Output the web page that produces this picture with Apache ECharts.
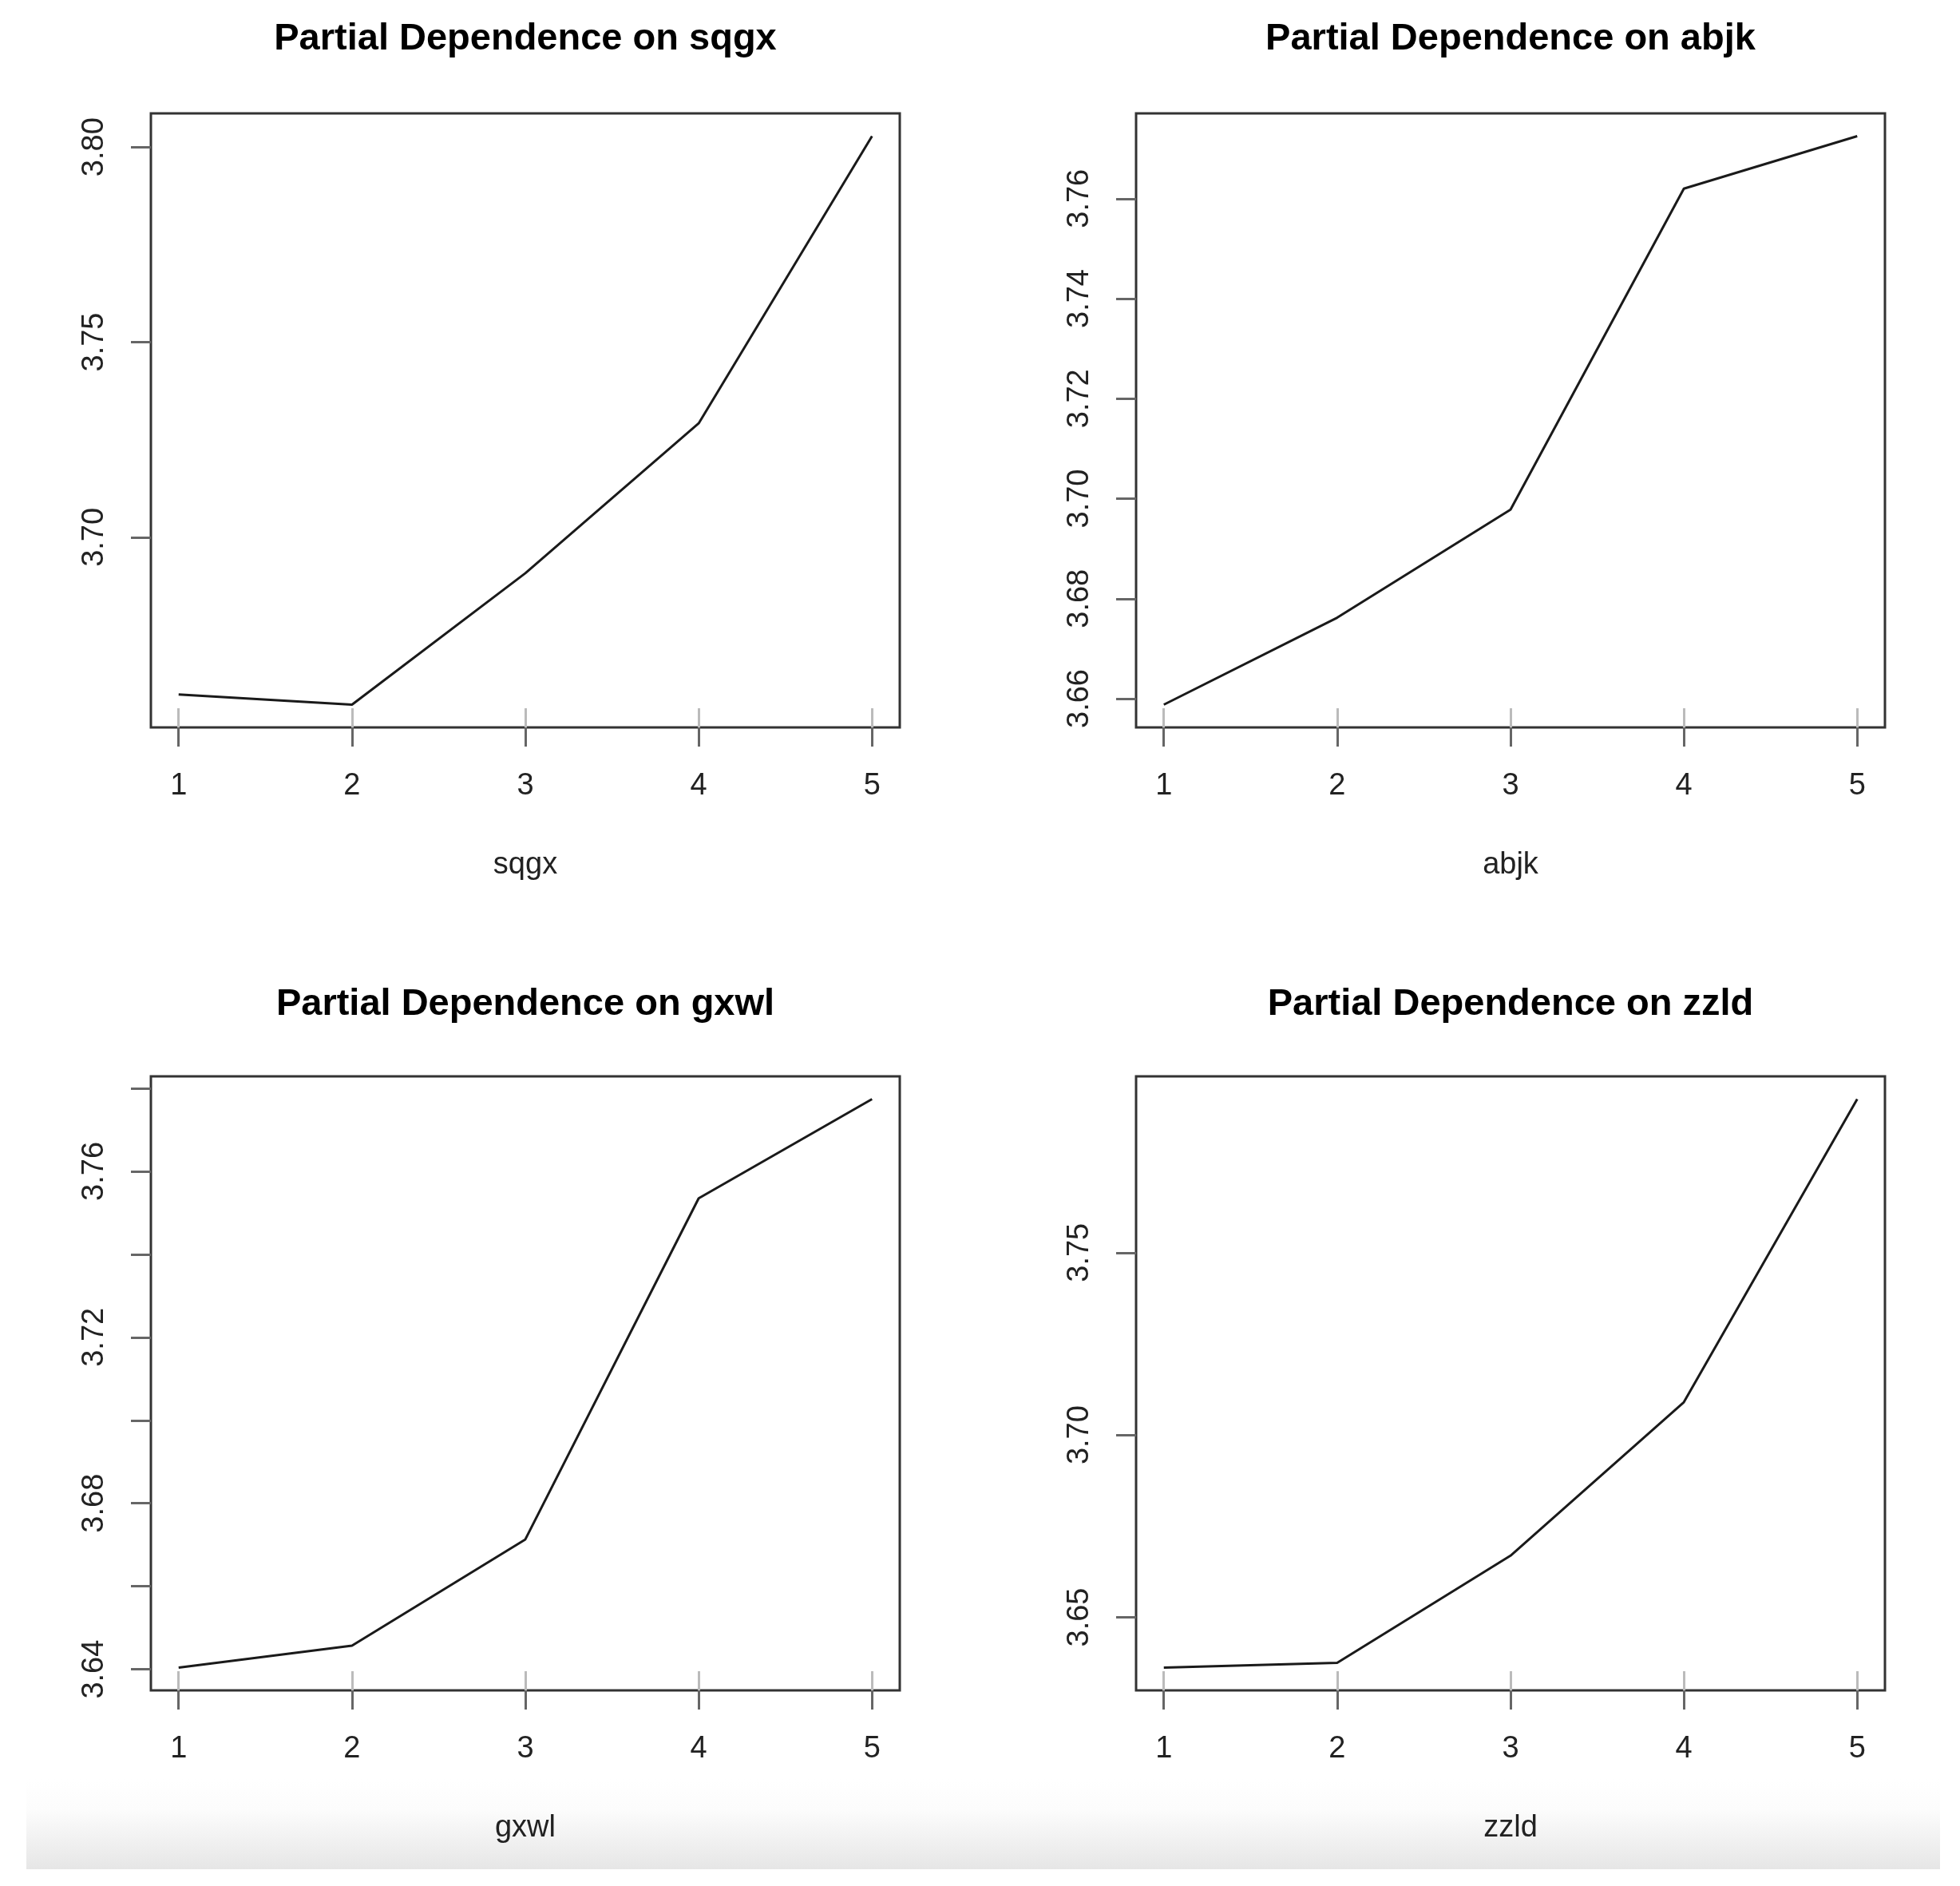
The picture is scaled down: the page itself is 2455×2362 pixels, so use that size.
<!DOCTYPE html>
<html>
<head>
<meta charset="utf-8">
<script src="https://cdn.jsdelivr.net/npm/echarts@6/dist/echarts.min.js"></script>
<style>
  html, body { margin: 0; padding: 0; background: #fff; }
  #chart { width: 2455px; height: 2362px; }
</style>
</head>
<body>
<div id="chart"></div>
<script>
// ---- data ----
const xValues = [1, 2, 3, 4, 5];
const xTickLabels = [1, 2, 3, 4, 5];

const varNames = ['sqgx', 'abjk', 'gxwl', 'zzld'];

const sqgxValues = [3.6597, 3.6571, 3.6908, 3.7292, 3.8028];
const abjkValues = [3.6588, 3.6762, 3.6978, 3.7620, 3.7725];
const gxwlValues = [3.6404, 3.6457, 3.6713, 3.7535, 3.7774];
const zzldValues = [3.6362, 3.6375, 3.6669, 3.7090, 3.7921];

const sqgxTicks = [3.70, 3.75, 3.80];
const abjkTicks = [3.66, 3.68, 3.70, 3.72, 3.74, 3.76];
const gxwlTicks = [3.64, 3.66, 3.68, 3.70, 3.72, 3.74, 3.76, 3.78];
const zzldTicks = [3.65, 3.70, 3.75];

const sqgxLabels = [3.70, 3.75, 3.80];
const abjkLabels = [3.66, 3.68, 3.70, 3.72, 3.74, 3.76];
const gxwlLabels = [3.64, 3.68, 3.72, 3.76];
const zzldLabels = [3.65, 3.70, 3.75];

// ---- layout ----
const FONT = "'Liberation Sans', Arial, Helvetica, sans-serif";
const panels = [
  { name: varNames[0], values: sqgxValues, ticks: sqgxTicks, labels: sqgxLabels, left: 189, top: 142, titleTop: 26 },
  { name: varNames[1], values: abjkValues, ticks: abjkTicks, labels: abjkLabels, left: 1423, top: 142, titleTop: 26 },
  { name: varNames[2], values: gxwlValues, ticks: gxwlTicks, labels: gxwlLabels, left: 189, top: 1348, titleTop: 1235 },
  { name: varNames[3], values: zzldValues, ticks: zzldTicks, labels: zzldLabels, left: 1423, top: 1348, titleTop: 1235 }
];
const W = 938, H = 769;

// R-style 4% axis extension
function ext(arr) {
  const mn = Math.min.apply(null, arr), mx = Math.max.apply(null, arr);
  const d = (mx - mn) * 0.04;
  return [mn - d, mx + d];
}

const option = {
  backgroundColor: '#ffffff',
  animation: false,
  title: [],
  grid: [],
  xAxis: [],
  yAxis: [],
  series: [],
  graphic: [{
    type: 'rect',
    z: -10,
    shape: { x: 33, y: 2228, width: 2397, height: 113 },
    style: {
      fill: new echarts.graphic.LinearGradient(0, 0, 0, 1, [
        { offset: 0, color: 'rgba(255,255,255,1)' },
        { offset: 0.35, color: '#fcfcfc' },
        { offset: 1, color: '#e6e6e6' }
      ])
    },
    silent: true
  }]
};

const xr = ext(xValues);

panels.forEach((p, i) => {
  const yr = ext(p.values);
  option.title.push({
    text: 'Partial Dependence on ' + p.name,
    left: p.left + W / 2,
    top: p.titleTop,
    textAlign: 'center',
    padding: 0,
    textStyle: { fontFamily: FONT, fontSize: 47, fontWeight: 'bold', color: '#000' }
  });
  option.grid.push({
    left: p.left, top: p.top, width: W, height: H,
    show: true, borderColor: '#333', borderWidth: 3, backgroundColor: 'transparent'
  });
  // main x axis (outside ticks + labels + name)
  option.xAxis.push({
    type: 'value', gridIndex: i, position: 'bottom',
    min: xr[0], max: xr[1],
    axisLine: { show: false },
    splitLine: { show: false },
    axisTick: { show: true, inside: false, length: 24, customValues: xTickLabels, lineStyle: { color: '#666', width: 3 } },
    axisLabel: { show: true, customValues: xTickLabels, margin: 55, fontFamily: FONT, fontSize: 38, color: '#222',
                 formatter: v => String(Math.round(v)) },
    name: p.name, nameLocation: 'middle', nameGap: 154,
    nameTextStyle: { fontFamily: FONT, fontSize: 38, color: '#222' }
  });
  // secondary x axis for light inside tick part
  option.xAxis.push({
    type: 'value', gridIndex: i, position: 'bottom',
    min: xr[0], max: xr[1],
    axisLine: { show: false },
    splitLine: { show: false },
    axisTick: { show: true, inside: true, length: 24, customValues: xTickLabels, lineStyle: { color: '#bbb', width: 3 } },
    axisLabel: { show: false }
  });
  option.yAxis.push({
    type: 'value', gridIndex: i,
    min: yr[0], max: yr[1],
    axisLine: { show: false },
    splitLine: { show: false },
    axisTick: { show: true, inside: false, length: 25, customValues: p.ticks, lineStyle: { color: '#666', width: 3 } },
    axisLabel: { show: true, customValues: p.labels, rotate: 90, margin: 51, fontFamily: FONT, fontSize: 38, color: '#222',
                 formatter: v => v.toFixed(2) }
  });
  option.series.push({
    type: 'line',
    xAxisIndex: i * 2, yAxisIndex: i,
    data: xValues.map((x, k) => [x, p.values[k]]),
    showSymbol: false,
    symbol: 'none',
    lineStyle: { color: '#1a1a1a', width: 3 },
    silent: true
  });
});

const chart = echarts.init(document.getElementById('chart'), null, { renderer: 'canvas' });
chart.setOption(option);
</script>
</body>
</html>
